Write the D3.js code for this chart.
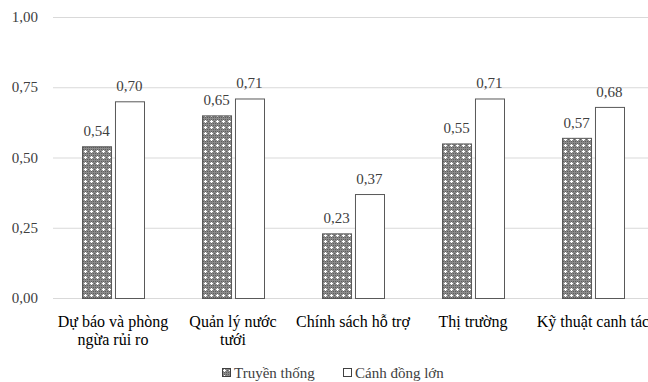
<!DOCTYPE html>
<html>
<head>
<meta charset="utf-8">
<script src="https://cdn.jsdelivr.net/npm/d3@7"></script>
<style>
  body { margin: 0; background: #fff; }
  svg text, svg tspan { font-family: 'Liberation Serif' !important; }
</style>
</head>
<body>
<div id="chart"></div>
<script>
// chart data
const categories = ["Dự báo và phòng|ngừa rủi ro", "Quản lý nước|tưới", "Chính sách hỗ trợ", "Thị trường", "Kỹ thuật canh tác"];
const seriesNames = ["Truyền thống", "Cánh đồng lớn"];
const truyenThong = [0.54, 0.65, 0.23, 0.55, 0.57];
const canhDongLon = [0.70, 0.71, 0.37, 0.71, 0.68];
const yTicks = [0, 0.25, 0.5, 0.75, 1];

const W = 648, H = 382;
const margin = { top: 17, left: 53, bottom: 84 };
const plotW = 600, plotH = H - margin.top - margin.bottom;
const FONT = "'Liberation Serif'";

const svg = d3.select("#chart").append("svg")
    .attr("width", W)
    .attr("height", H)
    .style("display", "block");

// dotted pattern for the first series
const defs = svg.append("defs");
const pat = defs.append("pattern")
    .attr("id", "dots")
    .attr("patternUnits", "userSpaceOnUse")
    .attr("width", 6)
    .attr("height", 6);
pat.append("rect").attr("width", 6).attr("height", 6).attr("fill", "#8a8a8a");
for (let i = 0; i < 6; i += 2) {
    for (let j = 0; j < 6; j += 2) {
        pat.append("rect").attr("x", i + ((j / 2) % 2)).attr("y", j).attr("width", 1).attr("height", 1).attr("fill", "#5e5e5e");
    }
}
pat.append("rect").attr("x", 2).attr("y", 1).attr("width", 1).attr("height", 3).attr("fill", "#fff");
pat.append("rect").attr("x", 1).attr("y", 2).attr("width", 3).attr("height", 1).attr("fill", "#fff");

const g = svg.append("g").attr("transform", `translate(${margin.left},${margin.top})`);

const x0 = d3.scaleBand().domain(categories).range([0, plotW]);
const x1 = d3.scaleBand().domain(seriesNames).range([-31, 31]).paddingInner(0.12);
const y = d3.scaleLinear().domain([0, 1]).range([plotH, 0]);

const fmt = v => d3.format(".2f")(v).replace(".", ",");

// gridlines
g.selectAll(".grid")
    .data(yTicks)
    .enter()
    .append("line")
    .attr("x1", 0)
    .attr("x2", plotW)
    .attr("y1", d => y(d) + 0.5)
    .attr("y2", d => y(d) + 0.5)
    .attr("stroke", "#d9d9d9")
    .attr("stroke-width", 1);

// y tick labels
g.selectAll(".ytick")
    .data(yTicks)
    .enter()
    .append("text")
    .attr("x", -15)
    .attr("y", d => y(d) + 5)
    .attr("text-anchor", "end")
    .style("font-family", FONT, "important")
    .attr("font-size", 15)
    .attr("fill", "#404040")
    .text(fmt);

// bars
const series = [truyenThong, canhDongLon];
series.forEach((vals, si) => {
    const grp = g.append("g");
    grp.selectAll("rect")
        .data(vals)
        .enter()
        .append("rect")
        .attr("x", (d, i) => x0(categories[i]) + x0.bandwidth() / 2 + x1(seriesNames[si]) + 0.5)
        .attr("y", d => y(d) + 0.5)
        .attr("width", x1.bandwidth())
        .attr("height", d => y(0) - y(d))
        .attr("fill", si === 0 ? "url(#dots)" : "#fff")
        .attr("stroke", "#595959")
        .attr("stroke-width", 1);
    grp.selectAll("text")
        .data(vals)
        .enter()
        .append("text")
        .attr("x", (d, i) => x0(categories[i]) + x0.bandwidth() / 2 + x1(seriesNames[si]) + x1.bandwidth() / 2)
        .attr("y", d => y(d) - 10)
        .attr("text-anchor", "middle")
        .style("font-family", FONT, "important")
        .attr("font-size", 15)
        .attr("fill", "#404040")
        .text(fmt);
});

// category labels
g.selectAll(".xlab")
    .data(categories)
    .enter()
    .append("text")
    .attr("text-anchor", "middle")
    .style("font-family", FONT, "important")
    .attr("font-size", 16)
    .attr("fill", "#000")
    .each(function(d) {
        const t = d3.select(this);
        d.split("|").forEach((line, k) => {
            t.append("tspan")
                .attr("x", x0(d) + x0.bandwidth() / 2)
                .attr("y", plotH + 29 + k * 18)
                .text(line);
        });
    });

// legend
const legend = svg.append("g").attr("transform", "translate(222,368)");
const items = [{ name: seriesNames[0], fill: "url(#dots)", x: 0 }, { name: seriesNames[1], fill: "#fff", x: 121 }];
items.forEach(it => {
    legend.append("rect")
        .attr("x", it.x + 0.5)
        .attr("y", 0.5)
        .attr("width", 8)
        .attr("height", 8)
        .attr("fill", it.fill)
        .attr("stroke", "#404040");
    legend.append("text")
        .attr("x", it.x + 12)
        .attr("y", 10)
        .style("font-family", FONT, "important")
        .attr("font-size", 15)
        .attr("fill", "#404040")
        .text(it.name);
});
</script>
</body>
</html>
